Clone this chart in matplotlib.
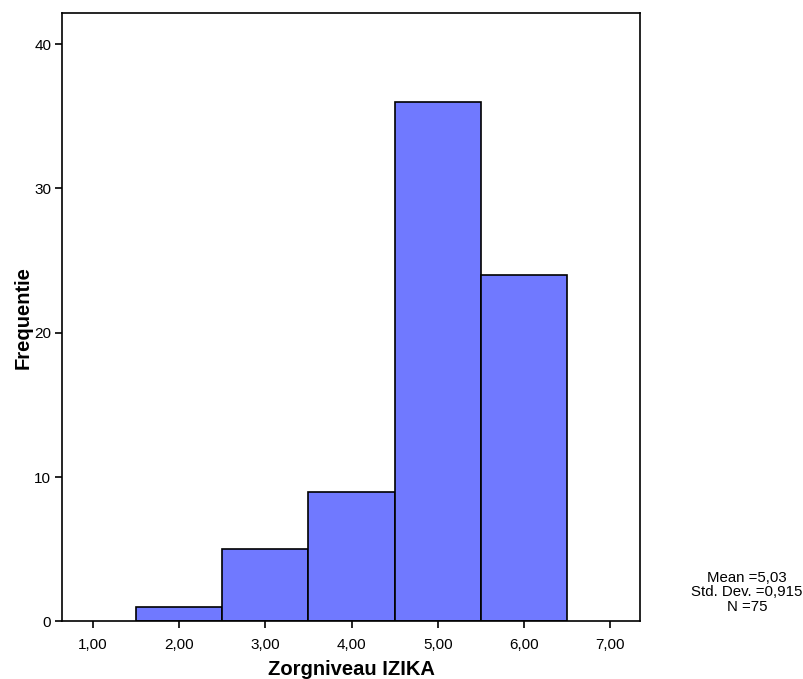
import numpy as np
import matplotlib.pyplot as plt

plt.rcParams['font.family'] = ['Liberation Sans', 'DejaVu Sans']

# Histogram bins (care level) and their frequencies
bin_edges = [1.5, 2.5, 3.5, 4.5, 5.5, 6.5]
counts = [1, 5, 9, 36, 24]
bin_centers = [2, 3, 4, 5, 6]

x_ticks = [1, 2, 3, 4, 5, 6, 7]
y_ticks = [0, 10, 20, 30, 40]

values = np.repeat(bin_centers, counts)
mean = values.mean()
sd = values.std(ddof=1)
n = len(values)

fig = plt.figure(figsize=(8.04, 6.79), dpi=100)
ax = fig.add_axes([0.0777, 0.0847, 0.718, 0.896])

ax.bar(bin_edges[:-1], counts, width=np.diff(bin_edges), align='edge',
       color='#7079ff', edgecolor='black', linewidth=1.2, zorder=2)

ax.set_xlim(0.65, 7.34)
ax.set_ylim(0, 42.15)
ax.set_xticks(x_ticks)
ax.set_xticklabels([f"{t:.2f}".replace('.', ',') for t in x_ticks])
ax.set_yticks(y_ticks)

for s in ax.spines.values():
    s.set_linewidth(1.2)
ax.tick_params(direction='out', length=5, width=1.2, labelsize=11, pad=3)
ax.tick_params(axis='x', pad=7)

ax.set_xlabel('Zorgniveau IZIKA', fontsize=14.5, fontweight='bold', labelpad=6)
ax.set_ylabel('Frequentie', fontsize=14.5, fontweight='bold', labelpad=1)

stats = "Mean ={}\nStd. Dev. ={}\nN ={}".format(
    f"{mean:.2f}".replace('.', ','), f"{sd:.3f}".replace('.', ','), n)
fig.text(0.929, 0.128, stats, ha='center', va='center', fontsize=10.8,
         linespacing=1.05)

fig.savefig('out.png', dpi=100)
